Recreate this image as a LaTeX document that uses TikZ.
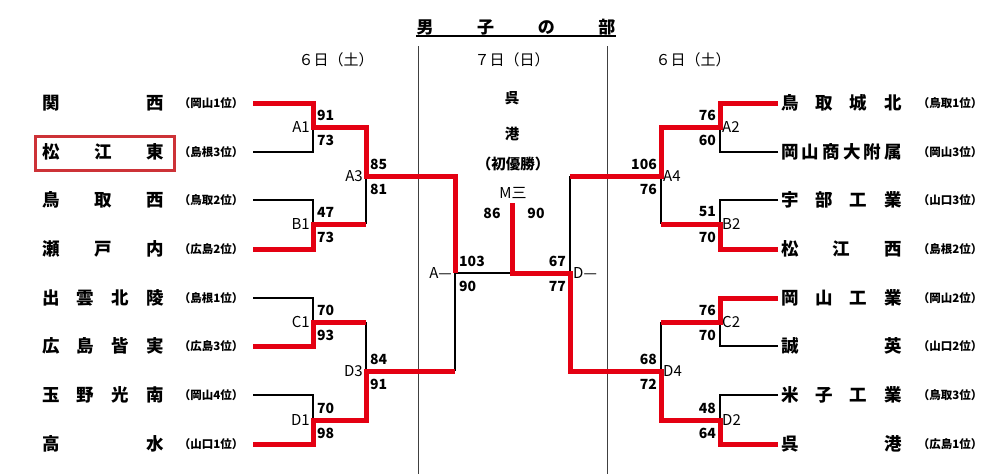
\documentclass[tikz,border=0pt]{standalone}
\usepackage{fontspec}
\setmainfont{Noto Sans CJK JP}
\definecolor{winred}{RGB}{228,0,18}
\definecolor{boxred}{RGB}{205,50,55}
\begin{document}
\begin{tikzpicture}[x=1pt,y=-1pt,
  loseline/.style={line width=1.2pt,black},
  winline/.style={line width=5pt,draw=winred,line join=miter},
  divider/.style={line width=1pt,black!75},
  team/.style={font=\fontsize{17.5}{18}\selectfont\bfseries,inner sep=0pt},
  pref/.style={font=\fontsize{11.5}{12}\selectfont\bfseries,inner sep=0pt},
  score/.style={font=\fontsize{14}{15}\selectfont\bfseries,inner sep=0pt},
  mlabel/.style={font=\fontsize{15}{16}\selectfont,inner sep=0pt},
  datelabel/.style={font=\fontsize{15}{16}\selectfont,inner sep=0pt},
  centre/.style={font=\fontsize{14.5}{15}\selectfont\bfseries,inner sep=0pt}
]
\useasboundingbox (0,0) rectangle (998,474);

% title
\node[font=\fontsize{17}{18}\selectfont\bfseries,inner sep=0pt] (title) at (516,27) {\hbox to 199pt{男\hfill 子\hfill の\hfill 部}};
\coordinate (ul1) at (416,36);
\coordinate (ul2) at (616,36);
\draw[line width=1.5pt] (ul1) -- (ul2);

% dividers
\coordinate (dv1t) at (418,46); \coordinate (dv1b) at (418,474);
\coordinate (dv2t) at (607,46); \coordinate (dv2b) at (607,474);
\draw[divider] (dv1t) -- (dv1b);
\draw[divider] (dv2t) -- (dv2b);

% dates
\node[datelabel] (dateL) at (336,60) {６日（土）};
\node[datelabel] (dateC) at (512,60) {７日（日）};
\node[datelabel] (dateR) at (693,60) {６日（土）};

% left teams
\foreach \i/\y/\nm/\pf in {1/103/{関\hfill 西}/（岡山1位）,
  2/152/{松\hfill 江\hfill 東}/（島根3位）,
  3/200/{鳥\hfill 取\hfill 西}/（鳥取2位）,
  4/249/{瀬\hfill 戸\hfill 内}/（広島2位）,
  5/298/{出\hfill 雲\hfill 北\hfill 陵}/（島根1位）,
  6/346/{広\hfill 島\hfill 皆\hfill 実}/（広島3位）,
  7/395/{玉\hfill 野\hfill 光\hfill 南}/（岡山4位）,
  8/444/{高\hfill 水}/（山口1位）}{
  \node[team] (lt\i) at (103,\y) {\hbox to 122pt{\nm}};
  \node[pref] (lp\i) at (211,\y) {\pf};
  \coordinate (L\i) at (253,\y);
}
% right teams
\foreach \i/\y/\nm/\pf in {1/103/{鳥\hfill 取\hfill 城\hfill 北}/（鳥取1位）,
  2/152/{岡\hfill 山\hfill 商\hfill 大\hfill 附\hfill 属}/（岡山3位）,
  3/200/{宇\hfill 部\hfill 工\hfill 業}/（山口3位）,
  4/249/{松\hfill 江\hfill 西}/（島根2位）,
  5/298/{岡\hfill 山\hfill 工\hfill 業}/（岡山2位）,
  6/346/{誠\hfill 英}/（山口2位）,
  7/395/{米\hfill 子\hfill 工\hfill 業}/（鳥取3位）,
  8/444/{呉\hfill 港}/（広島1位）}{
  \node[team] (rt\i) at (841.5,\y) {\hbox to 121pt{\nm}};
  \node[pref] (rp\i) at (950,\y) {\pf};
  \coordinate (R\i) at (778,\y);
}

% highlight box
\node[draw=boxred,line width=3pt,minimum width=139pt,minimum height=34pt,inner sep=0pt] (hl) at (104.5,153) {};

% junctions
\coordinate (a1) at (313,127); \coordinate (b1) at (313,224);
\coordinate (c1) at (313,322); \coordinate (d1) at (313,420);
\coordinate (a3) at (366,176); \coordinate (d3) at (366,371);
\coordinate (lf) at (455,273);
\coordinate (a2) at (720,127); \coordinate (b2) at (720,224);
\coordinate (c2) at (720,322); \coordinate (d2) at (720,420);
\coordinate (a4) at (661,176); \coordinate (d4) at (661,371);
\coordinate (rf) at (570,273);
\coordinate (champ) at (512,203);

% losing lines
\draw[loseline] (L2) -| (a1);
\draw[loseline] (L3) -| (b1);
\draw[loseline] (b1 -| a3) -- (a3);
\draw[loseline] (L5) -| (c1);
\draw[loseline] (c1 -| d3) -- (d3);
\draw[loseline] (L7) -| (d1);
\draw[loseline] (d3 -| lf) -- (lf);
\draw[loseline] (lf) -- (lf -| champ);
\draw[loseline] (R2) -| (a2);
\draw[loseline] (R3) -| (b2);
\draw[loseline] (b2 -| a4) -- (a4);
\draw[loseline] (a4 -| rf) -- (rf);
\draw[loseline] (R6) -| (c2);
\draw[loseline] (c2 -| d4) -- (d4);
\draw[loseline] (R7) -| (d2);

% winning lines
\draw[winline] (L1) -| (a1) -| (a3) -| (lf);
\draw[winline] (L4) -| (b1) -- (b1 -| a3);
\draw[winline] (L6) -| (c1) -- (c1 -| d3);
\draw[winline] (L8) -| (d1) -| (d3) -- (d3 -| lf);
\draw[winline] (R1) -| (a2) -| (a4) -- (a4 -| rf);
\draw[winline] (R4) -| (b2) -- (b2 -| a4);
\draw[winline] (R5) -| (c2) -- (c2 -| d4);
\draw[winline] (R8) -| (d2) -| (d4) -| (rf) -| (champ);

% left labels and scores
\foreach \n/\x/\y/\lab/\up/\dn in {a1/313/127/A1/91/73, b1/313/224/B1/47/73,
  c1/313/322/C1/70/93, d1/313/420/D1/70/98, a3/366/176/A3/85/81, d3/366/371/D3/84/91}{
  \node[mlabel,anchor=east] (lab\n) at (\x-3,\y) {\lab};
  \node[score,anchor=west] (su\n) at (\x+4,\y-12) {\up};
  \node[score,anchor=west] (sd\n) at (\x+4,\y+13) {\dn};
}
\node[mlabel,anchor=east] (lablf) at (452,273) {A—};
\node[score,anchor=west] (sulf) at (459,261) {103};
\node[score,anchor=west] (sdlf) at (459,286) {90};

% right labels and scores
\foreach \n/\x/\y/\lab/\up/\dn in {a2/720/127/A2/76/60, b2/720/224/B2/51/70,
  c2/720/322/C2/76/70, d2/720/420/D2/48/64, a4/661/176/A4/106/76, d4/661/371/D4/68/72}{
  \node[mlabel,anchor=west] (lab\n) at (\x+2,\y) {\lab};
  \node[score,anchor=east] (su\n) at (\x-4,\y-12) {\up};
  \node[score,anchor=east] (sd\n) at (\x-4,\y+13) {\dn};
}
\node[mlabel,anchor=west] (labrf) at (573,273) {D—};
\node[score,anchor=east] (surf) at (566,261) {67};
\node[score,anchor=east] (sdrf) at (566,286) {77};

% centre
\node[centre] (c1t) at (512,98) {呉};
\node[centre] (c2t) at (512,134) {港};
\node[centre] (c3t) at (513,164) {（初優勝）};
\node[mlabel] (c4t) at (513,193) {M三};
\node[score] (fl) at (492,213) {86};
\node[score] (fr) at (536,213) {90};
\end{tikzpicture}
\end{document}
